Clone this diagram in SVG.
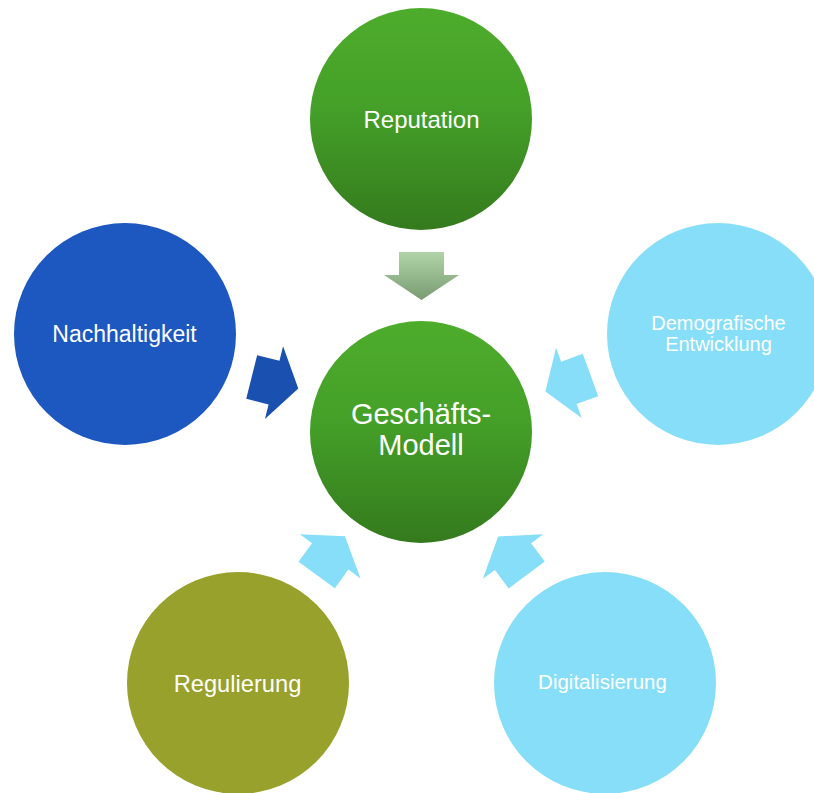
<svg xmlns="http://www.w3.org/2000/svg" width="814" height="793" viewBox="0 0 814 793">
  <defs>
    <linearGradient id="greenFill" x1="0" y1="0" x2="0" y2="1">
      <stop offset="0" stop-color="#4eac2c"/>
      <stop offset="0.45" stop-color="#44a028"/>
      <stop offset="1" stop-color="#347a1d"/>
    </linearGradient>
    <linearGradient id="paleGreenFill" x1="0" y1="0" x2="0" y2="1">
      <stop offset="0" stop-color="#b0d4a8"/>
      <stop offset="1" stop-color="#7a9b72"/>
    </linearGradient>
    <!-- block arrow pointing along +x, base at origin -->
    <path id="blockArrow" d="M0,-22.5 H23 V-37.5 L48,0 L23,37.5 V22.5 H0 Z"/>
  </defs>
  <style>
    .lbl { font-family: "Liberation Sans", Arial, sans-serif; fill: #ffffff; text-anchor: middle; }
    .green { fill: url(#greenFill); }
    .blue { fill: #1c58c0; }
    .sky { fill: #87def8; }
    .olive { fill: #97a12b; }
  </style>

  <rect width="814" height="793" fill="#ffffff"/>

  <!-- connectors -->
  <g id="connectors">
    <!-- downward arrow, drawn in place so its gradient runs top to bottom -->
    <polygon points="399,252 444,252 444,275 459,275 421.5,300 384,275 399,275" fill="url(#paleGreenFill)"/>
    <use href="#blockArrow" fill="#1a50b0" transform="translate(251.7,377) rotate(14)"/>
    <use href="#blockArrow" fill="#87def8" transform="translate(590.5,375) rotate(160)"/>
    <use href="#blockArrow" fill="#87def8" transform="translate(316.7,575) rotate(-54)"/>
    <use href="#blockArrow" fill="#87def8" transform="translate(526.7,575) rotate(-126.5)"/>
  </g>

  <g id="reputation">
    <circle class="green" cx="421" cy="119" r="111"/>
    <text class="lbl" x="421.5" y="128" font-size="24">Reputation</text>
  </g>

  <g id="geschaeftsmodell">
    <circle class="green" cx="421" cy="432" r="111"/>
    <text class="lbl" x="421" y="424" font-size="29">Geschäfts-</text>
    <text class="lbl" x="421" y="455" font-size="29">Modell</text>
  </g>

  <g id="nachhaltigkeit">
    <circle class="blue" cx="125" cy="334" r="111"/>
    <text class="lbl" x="124.5" y="342" font-size="23">Nachhaltigkeit</text>
  </g>

  <g id="demografie">
    <circle class="sky" cx="718" cy="334" r="111"/>
    <text class="lbl" x="718.5" y="330" font-size="20">Demografische</text>
    <text class="lbl" x="718.5" y="351" font-size="20">Entwicklung</text>
  </g>

  <g id="regulierung">
    <circle class="olive" cx="238" cy="683" r="111"/>
    <text class="lbl" x="237.5" y="692" font-size="23.7">Regulierung</text>
  </g>

  <g id="digitalisierung">
    <circle class="sky" cx="605" cy="683" r="111"/>
    <text class="lbl" x="602.5" y="689" font-size="20.5">Digitalisierung</text>
  </g>
</svg>
